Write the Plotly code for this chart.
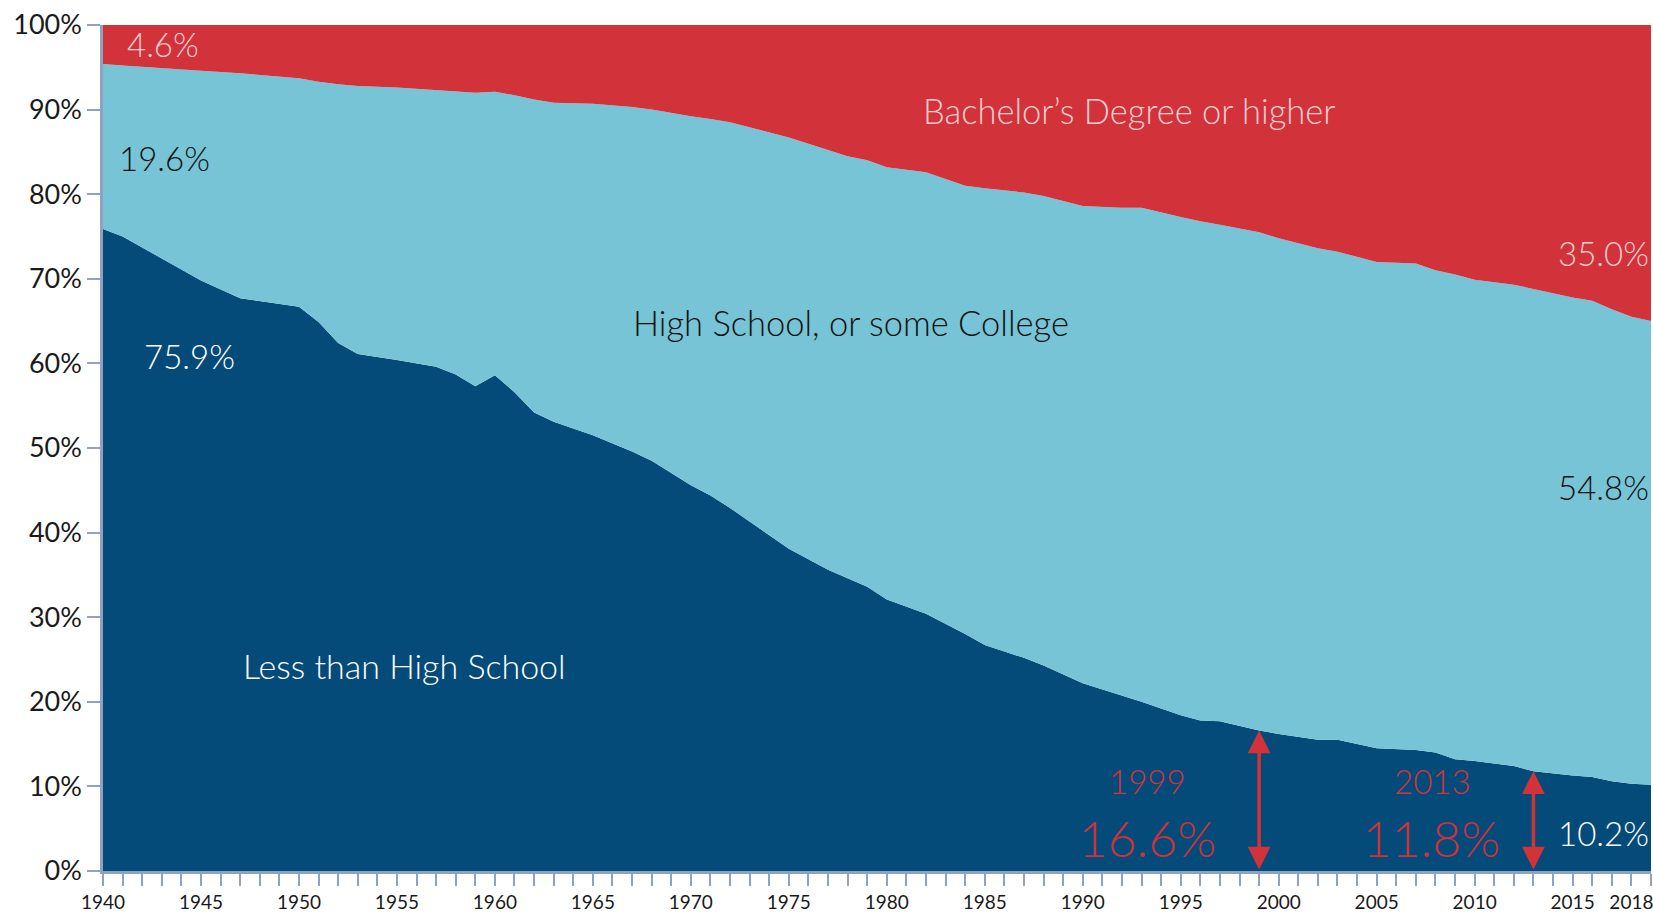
import plotly.graph_objects as go

# ---- data (percent of population 25+, by educational attainment) ----
years = [1940, 1941, 1945, 1947, 1950, 1951, 1952, 1953, 1955, 1957, 1958, 1959,
         1960, 1961, 1962, 1963, 1965, 1967, 1968, 1970, 1971, 1972, 1975, 1977,
         1978, 1979, 1980, 1982, 1984, 1985, 1987, 1988, 1990, 1992, 1993, 1995,
         1996, 1997, 1999, 2000, 2002, 2003, 2005, 2007, 2008, 2009, 2010, 2012,
         2013, 2015, 2016, 2017, 2018, 2019]

less_than_hs = [75.9, 75.0, 69.8, 67.7, 66.7, 64.9, 62.4, 61.1, 60.4, 59.6, 58.7, 57.3,
                58.6, 56.6, 54.2, 53.1, 51.5, 49.6, 48.5, 45.6, 44.4, 42.9, 38.1, 35.6,
                34.6, 33.6, 32.1, 30.4, 28.0, 26.7, 25.2, 24.3, 22.2, 20.7, 20.0, 18.4,
                17.8, 17.7, 16.6, 16.2, 15.5, 15.5, 14.5, 14.3, 14.0, 13.2, 13.0, 12.4,
                11.8, 11.3, 11.1, 10.6, 10.3, 10.2]

hs_top = [95.4, 95.2, 94.6, 94.3, 93.7, 93.3, 93.0, 92.8, 92.6, 92.3, 92.2, 92.0,
          92.1, 91.7, 91.2, 90.8, 90.7, 90.3, 90.0, 89.2, 88.9, 88.5, 86.7, 85.2,
          84.5, 84.0, 83.2, 82.6, 81.0, 80.7, 80.2, 79.8, 78.6, 78.4, 78.4, 77.3,
          76.8, 76.4, 75.5, 74.8, 73.6, 73.2, 72.0, 71.8, 71.0, 70.5, 69.9, 69.3,
          68.8, 67.8, 67.4, 66.4, 65.5, 65.0]

hs_some_college = [round(t - l, 1) for t, l in zip(hs_top, less_than_hs)]
bachelors = [round(100 - t, 1) for t in hs_top]

series_names = ["Less than High School", "High School, or some College", "Bachelor’s Degree or higher"]
series_colors = ["#044B7A", "#76C4D5", "#D2323A"]

y_tickvals = [0, 10, 20, 30, 40, 50, 60, 70, 80, 90, 100]
y_ticktext = ["0%", "10%", "20%", "30%", "40%", "50%", "60%", "70%", "80%", "90%", "100%"]
x_labels = {1940: "1940", 1945: "1945", 1950: "1950", 1955: "1955", 1960: "1960",
            1965: "1965", 1970: "1970", 1975: "1975", 1980: "1980", 1985: "1985",
            1990: "1990", 1995: "1995", 2000: "2000", 2005: "2005", 2010: "2010",
            2015: "2015", 2018: "2018"}
x_tickvals = list(range(1940, 2020))
x_ticktext = [x_labels.get(v, "") for v in x_tickvals]

FONT = "Lato"
AXIS_COLOR = "#8FA2BF"
PINK = "#F6CDD0"
RED = "#D2323A"

fig = go.Figure()
for name, vals, col in zip(series_names, [less_than_hs, hs_some_college, bachelors], series_colors):
    fig.add_trace(go.Scatter(
        x=years, y=vals, name=name, mode="lines", stackgroup="one",
        line=dict(width=0, color=col), fillcolor=col, hoverinfo="x+y+name"))

fig.update_layout(
    width=1653, height=915,
    margin=dict(l=103, r=0, t=25, b=44),
    paper_bgcolor="white", plot_bgcolor="white",
    showlegend=False,
    font=dict(family=FONT, color="#1a1a1a"),
)
fig.update_xaxes(
    range=[1940, 2019], tickvals=x_tickvals, ticktext=x_ticktext,
    ticks="outside", ticklen=12, tickwidth=2, tickcolor=AXIS_COLOR,
    showline=True, linecolor=AXIS_COLOR, linewidth=2.5,
    showgrid=False, zeroline=False, ticklabeloverflow="allow",
    tickfont=dict(family=FONT, size=19, color="#1a1a1a"),
)
fig.update_yaxes(
    range=[0, 100], tickvals=y_tickvals, ticktext=y_ticktext,
    ticks="outside", ticklen=13, tickwidth=2, tickcolor=AXIS_COLOR,
    showline=True, linecolor=AXIS_COLOR, linewidth=2.5,
    showgrid=False, zeroline=False,
    tickfont=dict(family=FONT, size=27, color="#1a1a1a"),
)

def txt(x, y, s, color, size, xanchor="center"):
    fig.add_annotation(x=x, y=y, xref="x", yref="y", text=s, showarrow=False,
                       xanchor=xanchor, yanchor="middle",
                       font=dict(family=FONT, size=size, color=color, weight=300))

txt(1943.06, 97.75, "4.6%", PINK, 33)
txt(1943.16, 84.3, "19.6%", "#111111", 33)
txt(1944.43, 60.9, "75.9%", "white", 33)
txt(1992.4, 89.9, "Bachelor’s Degree or higher", PINK, 34.5)
txt(1978.17, 64.8, "High School, or some College", "#111111", 34.5)
txt(1955.39, 24.3, "Less than High School", "white", 34)
fig.add_annotation(x=1, y=73.05, xref="paper", yref="y", text="35.0%", showarrow=False,
                   xanchor="right", yanchor="middle", font=dict(family=FONT, size=33, color=PINK, weight=300))
fig.add_annotation(x=1, y=45.4, xref="paper", yref="y", text="54.8%", showarrow=False,
                   xanchor="right", yanchor="middle", font=dict(family=FONT, size=33, color="#111111", weight=300))
fig.add_annotation(x=1, y=4.5, xref="paper", yref="y", text="10.2%", showarrow=False,
                   xanchor="right", yanchor="middle", font=dict(family=FONT, size=33, color="white", weight=300))

for yr, val, xc in [(1999, 16.6, 1993.31), (2013, 11.8, 2007.84)]:
    txt(xc, 10.64, str(yr), RED, 33)
    txt(xc, 3.9, f"{val:.1f}%", RED, 50)
    fig.add_annotation(x=yr, y=val, ax=yr, ay=0, xref="x", yref="y", axref="x", ayref="y",
                       text="", showarrow=True, arrowhead=2, arrowside="end+start",
                       arrowsize=1.3, arrowwidth=3.5, arrowcolor=RED, standoff=0, startstandoff=0)

fig.write_html("out.html")
